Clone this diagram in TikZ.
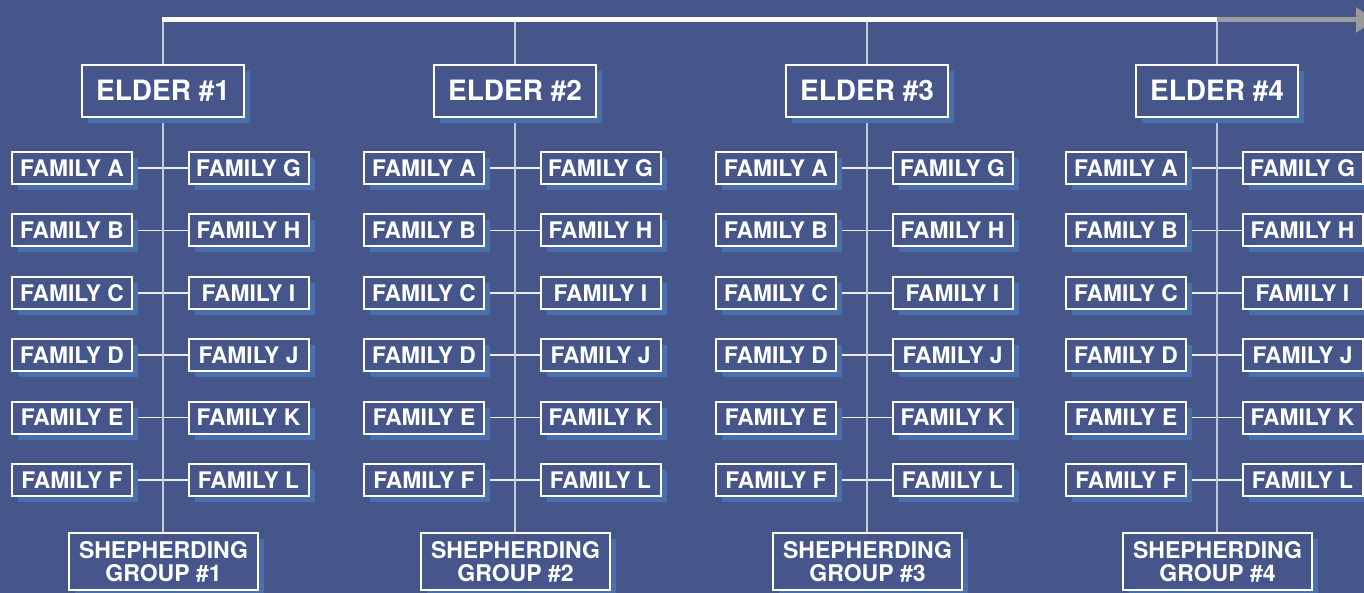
\documentclass[tikz,border=0pt]{standalone}
\usepackage{fontspec}
\setmainfont{TeX Gyre Heros}
\usetikzlibrary{positioning,shadows,arrows.meta}
\pgfdeclarelayer{bg}
\pgfsetlayers{bg,main}
\definecolor{bgblue}{HTML}{46568A}
\definecolor{shadowblue}{HTML}{4A6FAD}
\definecolor{trunkgray}{HTML}{C4C7D6}
\definecolor{arrowgray}{HTML}{9B9B9B}

\begin{document}
\begin{tikzpicture}[x=0.5pt, y=-0.5pt,
boxshadow/.style={drop shadow={shadow xshift=3pt, shadow yshift=-3pt, fill=shadowblue, opacity=1}},
elder/.style={draw=white, line width=1pt, fill=bgblue, text=white, inner sep=0pt, minimum width=81pt, minimum height=26pt, font=\fontsize{14}{16}\selectfont\bfseries, boxshadow},
family/.style={draw=white, line width=1pt, fill=bgblue, text=white, inner sep=0pt, minimum width=60pt, minimum height=16pt, font=\fontsize{11.4}{13}\selectfont\bfseries, boxshadow},
shepherd/.style={draw=white, line width=1pt, fill=bgblue, text=white, inner sep=0pt, align=center, minimum width=94.5pt, minimum height=28.5pt, font=\fontsize{11.5}{11.5}\selectfont\bfseries, boxshadow},
trunk/.style={draw=trunkgray, line width=1pt},
link/.style={draw=white!90!bgblue, line width=0.75pt},
topline/.style={draw=white, line width=2.5pt},
toparrow/.style={draw=arrowgray, line width=2.5pt, -{Triangle[length=10pt,width=12pt]}},
]

%Background
\begin{pgfonlayer}{bg}
\fill[bgblue] (0,0) rectangle (1364,593);
\end{pgfonlayer}
\useasboundingbox (0,0) rectangle (1364,593);

%Elders, families and groups
\foreach \n/\x in {1/163,2/515,3/867,4/1217} {
  \coordinate (t\n) at (\x,20);
  \node[elder] (e\n) at (\x,91) {ELDER \#\n};
  \node[shepherd] (s\n) at (\x+0.5,561.5) {SHEPHERDING\\GROUP \#\n};
  \foreach \l/\r [count=\k from 0] in {A/G,B/H,C/I,D/J,E/K,F/L} {
    \node[family] (fl\n\k) at (\x-91,168+62.4*\k) {FAMILY \l};
    \node[family] (fr\n\k) at (\x+85.5,168+62.4*\k) {FAMILY \r};
    \begin{pgfonlayer}{bg}
    \draw[link] (fl\n\k.east) -- (fr\n\k.west);
    \end{pgfonlayer}
  }
  \begin{pgfonlayer}{bg}
  \draw[trunk] (t\n) -- (e\n.north);
  \draw[trunk] (e\n.south) -- (e\n.south |- s\n.north);
  \end{pgfonlayer}
}

%Top line
\coordinate (tend) at (1376,20);
\draw[topline] ([xshift=-0.5pt]t1) -- (t4);
\draw[toparrow] (t4) -- (tend);
\end{tikzpicture}
\end{document}
